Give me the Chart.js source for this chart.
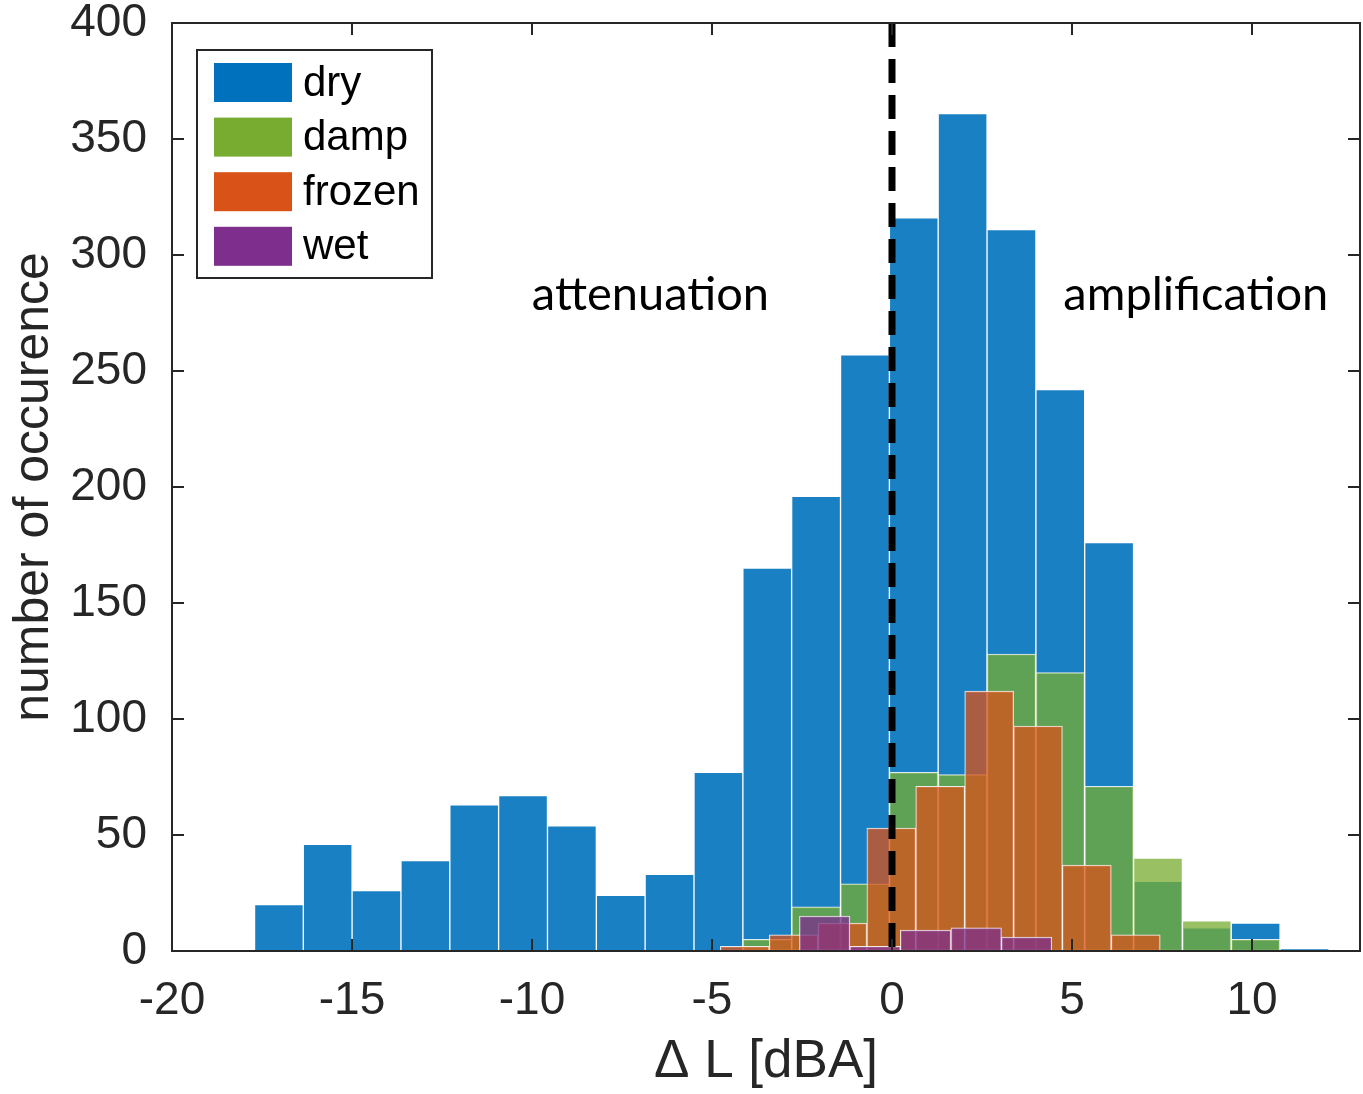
<!DOCTYPE html>
<html>
<head>
<meta charset="utf-8">
<title>Delta L histogram</title>
<script src="https://cdn.jsdelivr.net/npm/chart.js@4.4.1/dist/chart.umd.min.js"></script>
<style>
    body { margin: 0; background: #fff; }
    canvas { display: block; }
</style>
</head>
<body>
<canvas id="histChart" width="1363" height="1094"></canvas>
<script>
// Bin edges (dBA) and counts
const dryEdges = [-17.71, -16.35, -15.00, -13.64, -12.28, -10.93, -9.57, -8.21, -6.86, -5.50, -4.14,
    -2.79, -1.43, -0.07, 1.28, 2.64, 4.00, 5.35, 6.71, 8.07, 9.42, 10.78, 12.14];
const dryCounts = [20, 46, 26, 39, 63, 67, 54, 24, 33, 77, 165, 196, 257, 316, 361, 311, 242, 176, 30, 10, 12, 1];

const dampEdges = [-4.14, -2.79, -1.43, -0.07, 1.28, 2.64, 4.00, 5.35, 6.71, 8.07, 9.42, 10.78];
const dampCounts = [5, 19, 29, 77, 76, 128, 120, 71, 40, 13, 5];

const frozenEdges = [-4.77, -3.41, -2.05, -0.70, 0.66, 2.02, 3.38, 4.73, 6.09, 7.45];
const frozenCounts = [2, 7, 12, 53, 71, 112, 97, 37, 7];

const wetEdges = [-2.57, -1.17, 0.23, 1.64, 3.04, 4.44];
const wetCounts = [15, 2, 9, 10, 6];

const xTickValues = [-20, -15, -10, -5, 0, 5, 10];
const yTickValues = [0, 50, 100, 150, 200, 250, 300, 350, 400];

const zeroLine = [{ x: 0, y: 400 }, { x: 0, y: 0 }];

// text annotations, placed in data units
const notes = [
    { text: 'attenuation', x: -6.71, y: 276.5 },
    { text: 'amplification', x: 8.44, y: 276.5 },
];

const tickFont = { family: "'Liberation Sans', Arial, sans-serif", size: 46, lineHeight: 1 };
const titleFont = { family: "'Liberation Sans', Arial, sans-serif", size: 50, lineHeight: 1 };

function binPoints(edges, counts) {
    return counts.map((c, i) => ({ x: (edges[i] + edges[i + 1]) / 2, y: c }));
}

function histDataset(label, edges, counts, fill, solid, order) {
    return {
        label: label,
        data: binPoints(edges, counts),
        backgroundColor: fill,
        legendColor: solid,
        borderColor: 'rgba(255, 255, 255, 0.85)',
        borderWidth: 1,
        borderSkipped: false,
        barThickness: 'flex',
        categoryPercentage: 1,
        barPercentage: 1,
        stack: 'hist',
        order: order,
    };
}

// box + inward ticks on all four sides, like the original
const framePlugin = {
    id: 'frame',
    afterDraw(chart) {
        const { ctx, chartArea: a, scales: { x, y } } = chart;
        ctx.save();
        ctx.strokeStyle = '#262626';
        ctx.lineWidth = 2;
        ctx.strokeRect(a.left, a.top, a.right - a.left, a.bottom - a.top);
        ctx.beginPath();
        x.ticks.forEach((t) => {
            const px = x.getPixelForValue(t.value);
            ctx.moveTo(px, a.bottom);
            ctx.lineTo(px, a.bottom - 12);
            ctx.moveTo(px, a.top);
            ctx.lineTo(px, a.top + 12);
        });
        y.ticks.forEach((t) => {
            const py = y.getPixelForValue(t.value);
            ctx.moveTo(a.left, py);
            ctx.lineTo(a.left + 12, py);
            ctx.moveTo(a.right, py);
            ctx.lineTo(a.right - 12, py);
        });
        ctx.stroke();
        ctx.restore();
    },
};

const notesPlugin = {
    id: 'notes',
    afterDatasetsDraw(chart) {
        const { ctx, scales: { x, y } } = chart;
        ctx.save();
        ctx.fillStyle = '#000';
        ctx.font = "47px Lato, 'Open Sans', sans-serif";
        ctx.textAlign = 'center';
        ctx.textBaseline = 'alphabetic';
        notes.forEach((n) => {
            ctx.fillText(n.text, x.getPixelForValue(n.x), y.getPixelForValue(n.y));
        });
        ctx.restore();
    },
};

// legend box in the upper left of the axes
const legendPlugin = {
    id: 'boxLegend',
    afterDraw(chart) {
        const { ctx, chartArea: a } = chart;
        const sets = chart.data.datasets.filter((d) => d.legendColor);
        const lx = a.left + 25;
        const ly = a.top + 27;
        const rowH = 54.6;
        ctx.save();
        ctx.fillStyle = '#fff';
        ctx.fillRect(lx, ly, 235, 228);
        ctx.strokeStyle = '#262626';
        ctx.lineWidth = 2;
        ctx.strokeRect(lx, ly, 235, 228);
        ctx.font = "42px 'Liberation Sans', Arial, sans-serif";
        ctx.textBaseline = 'middle';
        ctx.textAlign = 'left';
        sets.forEach((d, i) => {
            const top = ly + 13 + i * rowH;
            ctx.fillStyle = d.legendColor;
            ctx.fillRect(lx + 17, top, 78, 39);
            ctx.fillStyle = '#000';
            ctx.fillText(d.label, lx + 106, top + 21);
        });
        ctx.restore();
    },
};

const ctx = document.getElementById('histChart').getContext('2d');
const chart = new Chart(ctx, {
    type: 'bar',
    data: {
        datasets: [
            histDataset('dry', dryEdges, dryCounts, 'rgba(0, 114, 189, 0.9)', 'rgb(0, 114, 189)', 4),
            histDataset('damp', dampEdges, dampCounts, 'rgba(119, 172, 48, 0.75)', 'rgb(119, 172, 48)', 3),
            histDataset('frozen', frozenEdges, frozenCounts, 'rgba(217, 83, 25, 0.75)', 'rgb(217, 83, 25)', 2),
            histDataset('wet', wetEdges, wetCounts, 'rgba(126, 47, 142, 0.75)', 'rgb(126, 47, 142)', 1),
            {
                type: 'line',
                label: 'zero',
                data: zeroLine,
                borderColor: '#000',
                borderWidth: 7,
                borderDash: [24, 12],
                pointRadius: 0,
                fill: false,
                order: 0,
            },
        ],
    },
    options: {
        responsive: false,
        devicePixelRatio: 1,
        animation: false,
        layout: { padding: { top: 23, right: 3, left: 0, bottom: 0 } },
        plugins: {
            legend: { display: false },
            tooltip: { enabled: false },
        },
        scales: {
            x: {
                type: 'linear',
                min: -20,
                max: 13,
                offset: false,
                grid: { display: false },
                border: { display: false },
                afterBuildTicks: (scale) => {
                    scale.ticks = xTickValues.map((v) => ({ value: v }));
                },
                afterFit: (scale) => {
                    scale.height = 143;
                    scale.paddingLeft = 0;
                    scale.paddingRight = 0;
                },
                ticks: {
                    font: tickFont,
                    color: '#262626',
                    padding: 19,
                    maxRotation: 0,
                    autoSkip: false,
                },
                title: {
                    display: true,
                    text: '\u0394 L [dBA]',
                    font: { family: "'Liberation Sans', Arial, sans-serif", size: 53, lineHeight: 1 },
                    color: '#262626',
                    padding: { top: 0, bottom: 5 },
                },
            },
            y: {
                min: 0,
                max: 400,
                stacked: false,
                grid: { display: false },
                border: { display: false },
                afterBuildTicks: (scale) => {
                    scale.ticks = yTickValues.map((v) => ({ value: v }));
                },
                afterFit: (scale) => {
                    scale.width = 172;
                    scale.paddingTop = 0;
                    scale.paddingBottom = 0;
                },
                ticks: {
                    font: tickFont,
                    color: '#262626',
                    padding: 17,
                },
                title: {
                    display: true,
                    text: 'number of occurence',
                    font: titleFont,
                    color: '#262626',
                    padding: { top: 9, bottom: 0 },
                },
            },
        },
    },
    plugins: [framePlugin, notesPlugin, legendPlugin],
});
</script>
</body>
</html>
